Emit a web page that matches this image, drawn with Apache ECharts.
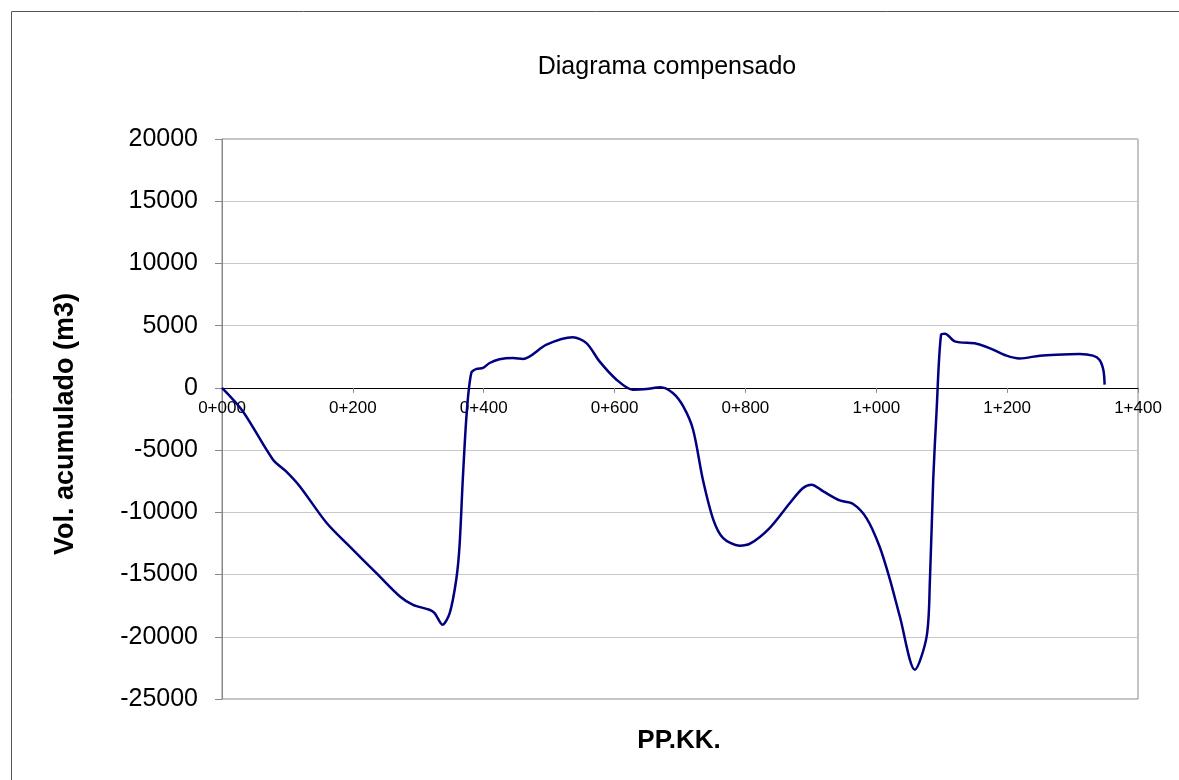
<!DOCTYPE html>
<html>
<head>
<meta charset="utf-8">
<script src="https://cdn.jsdelivr.net/npm/echarts@6/dist/echarts.min.js"></script>
<style>
html,body{margin:0;padding:0;background:#fff;}
#chart{width:1179px;height:780px;}
</style>
</head>
<body>
<div id="chart"></div>
<script>
// Chainage (PK, m)
const km = [0, 32, 78, 98, 119, 160, 195, 236, 272, 292, 317, 325, 337, 348, 358, 363, 368, 374, 381, 389, 399, 409, 424, 445, 460, 496, 536, 557, 577, 603, 628, 649, 670, 689, 705, 720, 735, 751, 766, 791, 807, 837, 868, 888, 901, 919, 944, 964, 985, 1005, 1021, 1036, 1059, 1077, 1082, 1087, 1092, 1099, 1105, 1120, 1153, 1173, 1199, 1219, 1250, 1275, 1311, 1331, 1341, 1347, 1349];
// Accumulated volume (m3)
const vol = [0, -1890, -5770, -6710, -7920, -10860, -12740, -14880, -16760, -17430, -17830, -18100, -19030, -18100, -15420, -12740, -7380, -2020, 1200, 1520, 1600, 2000, 2300, 2400, 2320, 3470, 4060, 3600, 2130, 660, -145, -90, 50, -410, -1490, -3360, -7380, -10600, -12070, -12680, -12520, -11260, -9250, -8050, -7780, -8320, -9040, -9310, -10460, -12740, -15420, -18370, -22650, -19970, -15420, -7380, -2020, 4280, 4360, 3740, 3550, 3200, 2590, 2370, 2590, 2670, 2720, 2590, 2270, 1460, 260];

const xTicks = [0, 200, 400, 600, 800, 1000, 1200, 1400];
const yTicks = [-25000, -20000, -15000, -10000, -5000, 0, 5000, 10000, 15000, 20000];

function pk(v){
  const k = Math.floor(v / 1000);
  const m = Math.round(v - k * 1000);
  return k + '+' + String(m).padStart(3, '0');
}

const GRID = {left: 222, top: 139, right: 41, bottom: 81};
const plotH = 780 - GRID.top - GRID.bottom;
const yMin = yTicks[0], yMax = yTicks[yTicks.length - 1];
// distance (px) from bottom of plot to the zero line, computed from the axis range
const zeroOffset = plotH * (0 - yMin) / (yMax - yMin);

const chart = echarts.init(document.getElementById('chart'));
const font = '"Liberation Sans", Arial, sans-serif';
chart.setOption({
  backgroundColor: '#fff',
  animation: false,
  title: [
    {text: 'Diagrama compensado', left: 662, top: 50, textAlign: 'center',
     textStyle: {fontFamily: font, fontSize: 25, fontWeight: 'normal', color: '#000'}},
    {text: 'PP.KK.', left: 674, top: 723, textAlign: 'center',
     textStyle: {fontFamily: font, fontSize: 26, fontWeight: 'bold', color: '#000'}}
  ],
  graphic: [
    {type: 'rect', left: 9, top: 9, shape: {width: 1250, height: 850}, silent: true,
     style: {fill: 'none', stroke: '#555', lineWidth: 1}}
  ],
  grid: Object.assign({show: true, borderColor: '#888', borderWidth: 1, backgroundColor: 'transparent'}, GRID),
  xAxis: {
    type: 'value', min: xTicks[0], max: xTicks[xTicks.length - 1], interval: 200,
    position: 'bottom', offset: -zeroOffset,
    axisLine: {onZero: false, lineStyle: {color: '#000', width: 1}},
    axisTick: {show: true, length: 5, lineStyle: {color: '#888'}},
    axisLabel: {formatter: pk, fontFamily: font, fontSize: 17, color: '#000', margin: 12, showMaxLabel: true, showMinLabel: true},
    splitLine: {show: false}
  },
  yAxis: {
    type: 'value', min: yMin, max: yMax, interval: 5000,
    name: 'Vol. acumulado (m3)', nameLocation: 'middle', nameGap: 143, nameRotate: 90,
    nameTextStyle: {fontFamily: font, fontSize: 27, fontWeight: 'bold', color: '#000', padding: [0, 10, 0, 0]},
    axisLine: {show: true, lineStyle: {color: '#888'}},
    axisTick: {show: true, length: 7, lineStyle: {color: '#888'}},
    axisLabel: {fontFamily: font, fontSize: 25, color: '#000', margin: 24, formatter: v => String(v)},
    splitLine: {show: true, lineStyle: {color: '#c8c8c8', width: 1}}
  },
  series: [{
    type: 'line', data: km.map((k, i) => [k, vol[i]]),
    smooth: 0.3, showSymbol: false, symbol: 'none',
    lineStyle: {color: '#000080', width: 2.5}
  }]
});
</script>
</body>
</html>
